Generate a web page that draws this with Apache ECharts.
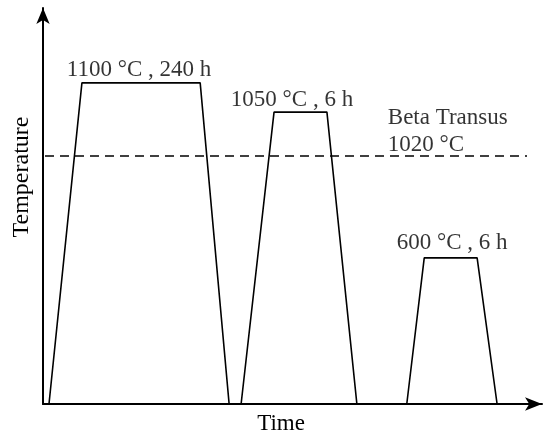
<!DOCTYPE html>
<html>
<head>
<meta charset="utf-8">
<style>html,body{margin:0;padding:0;background:#fff;}#chart{width:550px;height:441px;}</style>
<script src="https://cdn.jsdelivr.net/npm/echarts@6/dist/echarts.min.js"></script>
</head>
<body>
<div id="chart"></div>
<script>
// Schematic heat-treatment schedule (time and level in relative units, 0-100)
const stepTimes = [
  [1.2, 7.8, 31.5, 37.3],
  [39.7, 46.3, 56.9, 62.9],
  [72.9, 76.4, 87.0, 91.0]
];
const holdLevels = [81.1, 73.7, 36.9];
const holdLabels = ['1100 °C , 240 h', '1050 °C , 6 h', '600 °C , 6 h'];
const betaTransusLevel = 62.6;
const betaTransusRange = [0.4, 97.0];
const betaTransusLabel = ['Beta Transus', '1020 °C'];
const xName = 'Time';
const yName = 'Temperature';

const FONT = "'Liberation Serif', 'Times New Roman', serif";
const INK = '#000';
const labelOffsets = [[-2, -13], [-8.5, -12], [1.5, -15]];

const series = [];
stepTimes.forEach(function (t, i) {
  series.push({
    type: 'line', silent: true, symbol: 'none',
    lineStyle: { color: INK, width: 1.6 },
    data: [[t[0], 0], [t[1], holdLevels[i]], [t[2], holdLevels[i]], [t[3], 0]]
  });
});
series.push({
  type: 'line', silent: true, symbol: 'none',
  lineStyle: { color: INK, width: 1.5, type: [9, 6] },
  data: [[betaTransusRange[0], betaTransusLevel], [betaTransusRange[1], betaTransusLevel]]
});
series.push({
  type: 'scatter', silent: true, symbolSize: 0,
  data: stepTimes.map(function (t, i) {
    return {
      value: [(t[1] + t[2]) / 2, holdLevels[i]],
      label: {
        show: true, position: 'inside', formatter: holdLabels[i],
        offset: labelOffsets[i],
        fontFamily: FONT, fontSize: 23, color: INK
      }
    };
  })
});
series.push({
  type: 'scatter', silent: true, symbolSize: 0,
  data: [{
    value: [69.1, betaTransusLevel],
    label: {
      show: true, position: 'inside', align: 'left', verticalAlign: 'bottom',
      formatter: betaTransusLabel.join('\n'), lineHeight: 27,
      offset: [0, 2],
      fontFamily: FONT, fontSize: 23, color: INK
    }
  }]
});

const chart = echarts.init(document.getElementById('chart'), null, { renderer: 'canvas' });
chart.setOption({
  animation: false,
  backgroundColor: '#fff',
  grid: { left: 43, right: 8, top: 8, bottom: 37, containLabel: false, outerBoundsMode: 'none' },
  xAxis: {
    type: 'value', min: 0, max: 100,
    name: xName, nameLocation: 'middle', nameGap: 8,
    nameTextStyle: { fontFamily: FONT, fontSize: 23, color: INK, padding: [0, 23, 0, 0] },
    axisLine: { lineStyle: { color: INK, width: 2 }, symbol: ['none', 'arrow'], symbolSize: [10, 17] },
    axisTick: { show: false }, axisLabel: { show: false }, splitLine: { show: false }
  },
  yAxis: {
    type: 'value', min: 0, max: 100,
    name: yName, nameLocation: 'middle', nameGap: 9,
    nameTextStyle: { fontFamily: FONT, fontSize: 24, color: INK, padding: [0, 0, 0, 58] },
    axisLine: { show: true, lineStyle: { color: INK, width: 2 }, symbol: ['none', 'arrow'], symbolSize: [10, 16] },
    axisTick: { show: false }, axisLabel: { show: false }, splitLine: { show: false }
  },
  series: series
});
</script>
</body>
</html>
